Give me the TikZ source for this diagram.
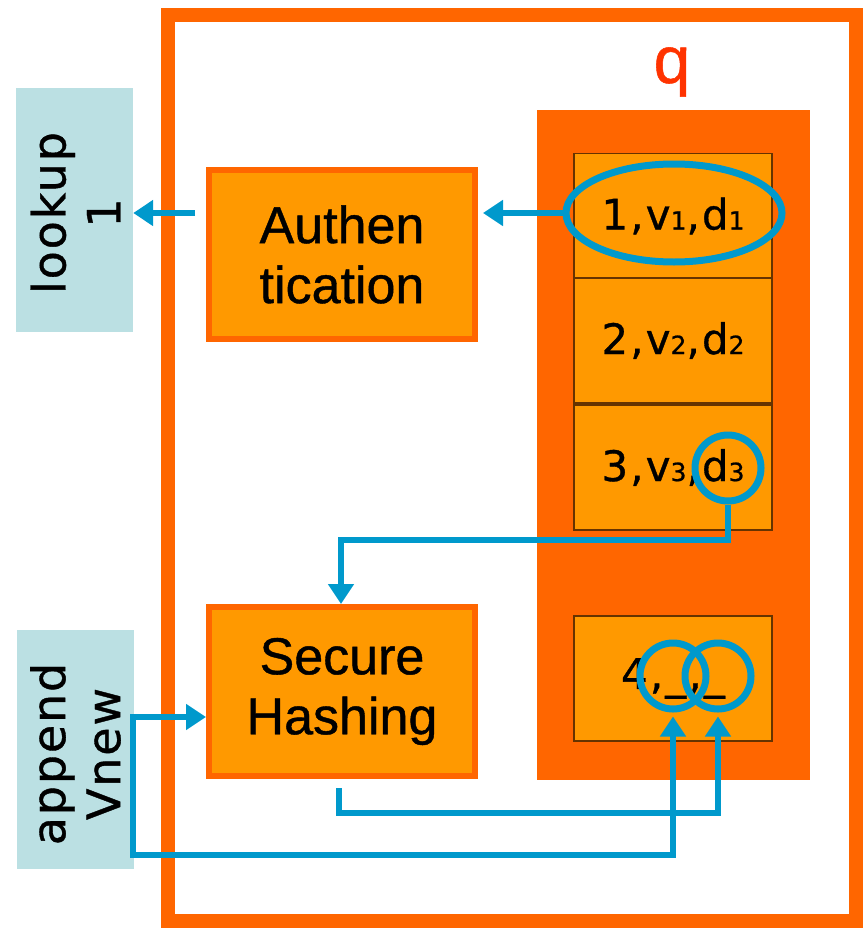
\documentclass[tikz,border=0pt]{standalone}
\usepackage{fontspec}
\setmainfont[FakeBold=0.8]{Liberation Sans}
\newfontfamily\dvside[LetterSpace=4,FakeBold=0.8]{DejaVu Sans}
\newfontfamily\dvcell[LetterSpace=5,FakeBold=0.8]{DejaVu Sans}
\usetikzlibrary{arrows.meta,shapes.geometric}
\definecolor{frameor}{HTML}{FF6600}
\definecolor{cellor}{HTML}{FF9900}
\definecolor{cellbd}{HTML}{663300}
\definecolor{flow}{HTML}{0099CC}
\definecolor{lblue}{HTML}{BBE0E3}
\definecolor{qred}{HTML}{FF3300}
\newcommand{\dsub}[1]{{\fontsize{25}{25}\selectfont #1}}
\tikzset{
  procbox/.style={draw=frameor, line width=6pt, fill=cellor, minimum width=266pt, minimum height=169pt, inner sep=0pt, align=center, font=\fontsize{52}{60}\selectfont},
  cellbox/.style={draw=cellbd, line width=1.5pt, fill=cellor, minimum width=198pt, minimum height=125pt, inner sep=0pt, font=\dvcell\fontsize{42}{48}\selectfont},
  sidebox/.style={fill=lblue, minimum width=117pt, inner sep=0pt},
  sidetext/.style={rotate=90, align=center, inner sep=0pt, font=\dvside\fontsize{46}{55}\selectfont},
  ring/.style={draw=flow, line width=7pt, circle, minimum size=66pt, inner sep=0pt},
  flowarr/.style={draw=flow, line width=6pt, -{Triangle[width=25pt,length=20pt]}},
  flowboth/.style={draw=flow, line width=6pt, {Triangle[width=25pt,length=20pt]}-{Triangle[width=25pt,length=20pt]}},
}
\begin{document}
\begin{tikzpicture}[x=1pt,y=-1pt]
\useasboundingbox (0,0) rectangle (865,929);
% outer frame
\draw[frameor, line width=14pt] (168,15) rectangle (856,921);
% queue panel
\fill[frameor] (537,110) rectangle (810,780);
\node[text=qred, font=\fontsize{66}{70}\selectfont] (q) at (672,72) {q};
% cells
\node[cellbox] (c1) at (673,216) {1,v\dsub{1},d\dsub{1}};
\node[cellbox] (c2) at (673,340.5) {2,v\dsub{2},d\dsub{2}};
\node[cellbox] (c3) at (673,467.5) {3,v\dsub{3},d\dsub{3}};
\node[cellbox] (c4) at (673,678.5) {4,\_,\_};
% side boxes
\node[sidebox, minimum height=244pt] (lookup) at (74.5,210) {};
\node[sidetext] (lookuptxt) at (75.5,213) {lookup\\1};
\node[sidebox, minimum height=239pt] (append) at (75.5,749.5) {};
\node[sidetext] (appendtxt) at (75.5,754) {append\\Vnew};
% process boxes
\node[procbox] (auth) at (342,254.5) {Authen\\tication};
\node[procbox] (sh) at (342,691.5) {Secure\\Hashing};
% highlight rings
\node[draw=flow, line width=7pt, ellipse, minimum width=216pt, minimum height=98pt, inner sep=0pt] (e1) at (674,213) {};
\node[ring] (r3) at (728,468) {};
\node[ring] (r4a) at (673,676) {};
\node[ring] (r4b) at (718,676) {};
% connectors
\draw[flowarr, shorten >=5pt] (e1.west) -- (auth.east |- e1.west);
\draw[flowarr, shorten <=11pt] (auth.west |- e1.west) -- (lookup.east |- e1.west);
\coordinate (k1) at (341,540);
\draw[flowarr] (r3.south) |- (k1) -- (sh.north -| k1);
\coordinate (a1) at (133,717);
\coordinate (a2) at (133,855);
\draw[flowboth, shorten >=4pt] (sh.west |- a1) -- (a1) -- (a2) -| (r4a.south);
\coordinate (b1) at (339,813);
\draw[flowarr, shorten >=4pt] (sh.south -| b1) ++(0,9) -- (b1) -| (r4b.south);
\end{tikzpicture}
\end{document}
